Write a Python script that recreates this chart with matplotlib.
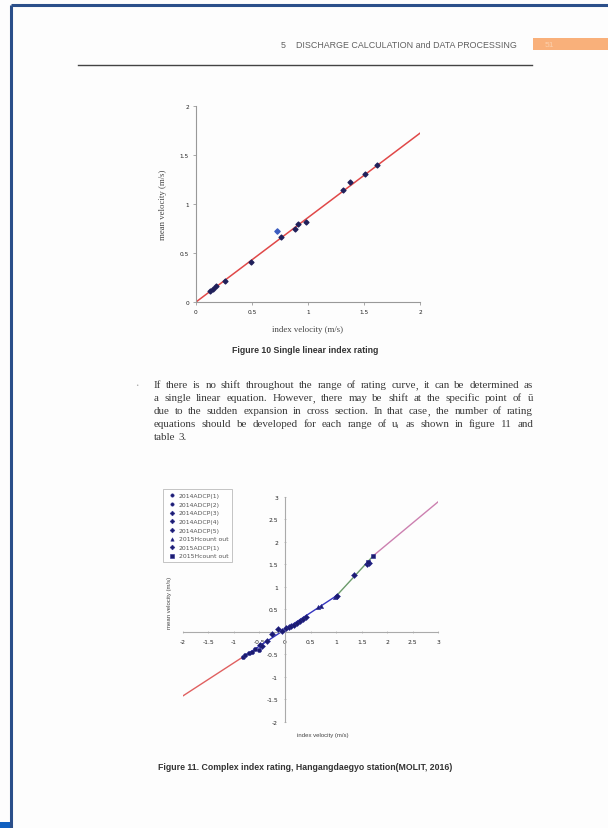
import matplotlib
matplotlib.use('Agg')
import matplotlib.pyplot as plt
import numpy as np

plt.rcParams['mathtext.fontset'] = 'stix'

# ---- figure 10 data ---------------------------------------------------
fig10_idx = [0.125, 0.155, 0.18, 0.26, 0.49, 0.756, 0.884, 0.908, 0.98, 1.31, 1.375, 1.51, 1.62]
fig10_mean = [0.115, 0.13, 0.16, 0.217, 0.41, 0.66, 0.745, 0.80, 0.816, 1.143, 1.22, 1.31, 1.40]
fig10_out_idx = [0.72]
fig10_out_mean = [0.72]
fig10_line_x = [0.0, 2.02]
fig10_line_y = [0.0, 1.74]
fig10_ticks = [0, 0.5, 1, 1.5, 2]
fig10_ticklabels = ['0', '0.5', '1', '1.5', '2']

# ---- figure 11 data ---------------------------------------------------
fig11_labels = ['2014ADCP(1)', '2014ADCP(2)', '2014ADCP(3)', '2014ADCP(4)',
                '2014ADCP(5)', '2015Hcount out', '2015ADCP(1)', '2015Hcount out']
fig11_x = [
    [-0.82, -0.78, -0.70],
    [-0.65, -0.58, -0.50],
    [-0.48, -0.45, -0.36, -0.26],
    [-0.13, -0.05, 0.02, 0.08],
    [0.12, 0.18, 0.24, 0.30, 0.36, 0.42],
    [0.65, 0.70, 0.98, 1.00],
    [1.02, 1.36, 1.60, 1.65],
    [1.62, 1.73],
]
fig11_y = [
    [-0.56, -0.52, -0.47],
    [-0.45, -0.38, -0.40],
    [-0.30, -0.32, -0.20, -0.05],
    [0.06, 0.02, 0.08, 0.10],
    [0.12, 0.15, 0.20, 0.24, 0.28, 0.32],
    [0.55, 0.58, 0.78, 0.80],
    [0.79, 1.26, 1.50, 1.52],
    [1.56, 1.69],
]
fig11_markers = ['o', 'o', 'D', 'D', 'D', '^', 'D', 's']
fig11_seg_x = [-2.0, -0.78, 1.01, 1.73, 3.0]
fig11_seg_y = [-1.43, -0.53, 0.80, 1.69, 2.89]
fig11_seg_colors = ['#e06060', '#3535c0', '#6a9a6a', '#cc80b0']
fig11_xticks = [-2, -1.5, -1, -0.5, 0, 0.5, 1, 1.5, 2, 2.5, 3]
fig11_yticks = [-2, -1.5, -1, -0.5, 0.5, 1, 1.5, 2, 2.5, 3]

para = [
    "If there is no shift throughout the range of rating curve, it can be determined as",
    "a single linear equation. However, there may be shift at the specific point of \u016b",
    "due to the sudden expansion in cross section. In that case, the number of rating",
    "equations should be developed for each range of  u\u1d62  as shown in figure 11 and",
    "table 3.",
]

W, H = 608, 829
fig = plt.figure(figsize=(W / 100, H / 100), dpi=100)
fig.patch.set_facecolor('#fdfdfd')
bg = fig.add_axes([0, 0, 1, 1])
bg.set_xlim(0, W)
bg.set_ylim(H, 0)
bg.axis('off')

# page frame
bg.plot([11, W], [6, 6], color='#2b4f8a', lw=2.2, solid_capstyle='butt')
bg.plot([11, 11], [6, H], color='#2b4f8a', lw=2.2, solid_capstyle='butt')
bg.add_patch(plt.Rectangle((0, 823), 10, 6, color='#1060c0', lw=0))

# header
bg.text(517, 45, '5    DISCHARGE CALCULATION and DATA PROCESSING', ha='right', va='center',
        fontsize=6.4, color='#606060', family='Liberation Sans')
bg.add_patch(plt.Rectangle((533, 39), 75, 12, color='#f9b07a', lw=0))
bg.text(545, 45, '51', ha='left', va='center', fontsize=6, color='#fcd0ad',
        family='Liberation Sans')
bg.plot([78, 532], [66, 66], color='#444444', lw=1.0)

# ---- figure 10 ---------------------------------------------------------
ax1 = fig.add_axes([196 / W, 1 - 303 / H, 224 / W, 196 / H])
ax1.set_facecolor('none')
ax1.plot(fig10_line_x, fig10_line_y, color='#e04848', lw=1.1, zorder=2)
ax1.scatter(fig10_idx, fig10_mean, s=6, marker='D', color='#20205a', zorder=3)
ax1.scatter(fig10_out_idx, fig10_out_mean, s=7, marker='D', color='#3c5cc0', zorder=3)
ax1.set_xlim(0, 2)
ax1.set_ylim(0, 2)
ax1.set_xticks(fig10_ticks)
ax1.set_xticklabels(fig10_ticklabels)
ax1.set_yticks(fig10_ticks)
ax1.set_yticklabels(fig10_ticklabels)
for s in ['top', 'right']:
    ax1.spines[s].set_visible(False)
for s in ['left', 'bottom']:
    ax1.spines[s].set_color('#999999')
    ax1.spines[s].set_linewidth(0.8)
ax1.tick_params(length=2, width=0.6, color='#999999', labelsize=4.2, pad=3,
                labelcolor='#222222')
ax1.set_xlabel('index velocity (m/s)', fontsize=6.3, family='Liberation Serif',
               color='#444444', labelpad=8)
ax1.set_ylabel('mean velocity (m/s)', fontsize=6.3, family='Liberation Serif',
               color='#444444', labelpad=9)
bg.text(305, 350, 'Figure 10 Single linear index rating', ha='center', va='center',
        fontsize=6.3, fontweight='bold', color='#333333', family='Liberation Sans')

# ---- paragraph (justified, one text per word; commas drawn apart) -----
bg.text(137, 385, '\u2022', ha='center', va='center', fontsize=4, color='#aaaaaa')
renderer = fig.canvas.get_renderer()
fam = ['Liberation Serif', 'DejaVu Serif']
x0, x1 = 154, 533
probe = bg.text(0, 0, para[0], fontsize=7.2, family=fam)
fs = 0.92 * 7.2 * (x1 - x0) / probe.get_window_extent(renderer).width
probe.remove()


def word(y, s):
    return bg.text(0, y, s, fontsize=fs, family=fam, color='#3a3a3a',
                   va='baseline', ha='left')


for i, line in enumerate(para):
    y = 388 + i * 13
    items = []
    for w_ in line.split():
        if w_.endswith(','):
            core, comma = word(y, w_[:-1]), word(y, ',')
            wc = core.get_window_extent(renderer).width
            wk = comma.get_window_extent(renderer).width
            items.append((core, comma, wc, wc + wk))
        else:
            t = word(y, w_)
            items.append((t, None, 0, t.get_window_extent(renderer).width))
    total = sum(it[3] for it in items)
    if i < len(para) - 1 and len(items) > 1:
        gap = (x1 - x0 - total) / (len(items) - 1)
    else:
        gap = fs * 0.35
    x = x0
    for core, comma, wc, wd in items:
        core.set_x(x)
        if comma is not None:
            comma.set_x(x + wc)
        x += wd + gap

# ---- figure 11 ---------------------------------------------------------
ax2 = fig.add_axes([182.7 / W, 1 - 722.7 / H, 255.6 / W, 225 / H])
ax2.set_facecolor('none')
for k in range(len(fig11_seg_colors)):
    ax2.plot(fig11_seg_x[k:k + 2], fig11_seg_y[k:k + 2], color=fig11_seg_colors[k],
             lw=1.0, zorder=2)
for xs, ys, m, lab in zip(fig11_x, fig11_y, fig11_markers, fig11_labels):
    ax2.scatter(xs, ys, s=9, marker=m, facecolor='#1c1c70', edgecolor='#2a2a90',
                linewidth=0.4, zorder=3, label=lab)
ax2.set_xlim(-2, 3)
ax2.set_ylim(-2, 3)
ax2.spines['left'].set_position(('data', 0))
ax2.spines['bottom'].set_position(('data', 0))
for s in ['top', 'right']:
    ax2.spines[s].set_visible(False)
for s in ['left', 'bottom']:
    ax2.spines[s].set_color('#aaaaaa')
    ax2.spines[s].set_linewidth(0.8)
ax2.set_xticks(fig11_xticks)
ax2.set_xticklabels([f'{v:g}' for v in fig11_xticks])
ax2.set_yticks(fig11_yticks)
ax2.set_yticklabels([f'{v:g}' for v in fig11_yticks])
ax2.tick_params(length=2, width=0.5, color='#aaaaaa', labelsize=4.3, pad=4,
                labelcolor='#222222', direction='inout')
bg.text(323, 735, 'index velocity (m/s)', ha='center', va='center', fontsize=4.3,
        color='#444444', family='Liberation Sans')
bg.text(170, 603, 'mean velocity (m/s)', ha='center', va='center', fontsize=4.3,
        rotation=90, color='#444444', family='Liberation Sans')
leg = ax2.legend(loc='upper left', bbox_to_anchor=(-0.077, 1.034), fontsize=4.4,
                 frameon=True, fancybox=False, edgecolor='#aaaaaa', borderpad=0.6,
                 labelspacing=0.55, handletextpad=0.2, handlelength=1.8,
                 markerscale=0.8, borderaxespad=0)
leg.get_frame().set_linewidth(0.6)
for t in leg.get_texts():
    t.set_color('#555555')
bg.text(305, 768, 'Figure 11. Complex index rating, Hangangdaegyo station(MOLIT, 2016)',
        ha='center', va='center', fontsize=6.3, fontweight='bold', color='#333333',
        family='Liberation Sans')

fig.savefig('out.png', dpi=100, facecolor=fig.get_facecolor())
